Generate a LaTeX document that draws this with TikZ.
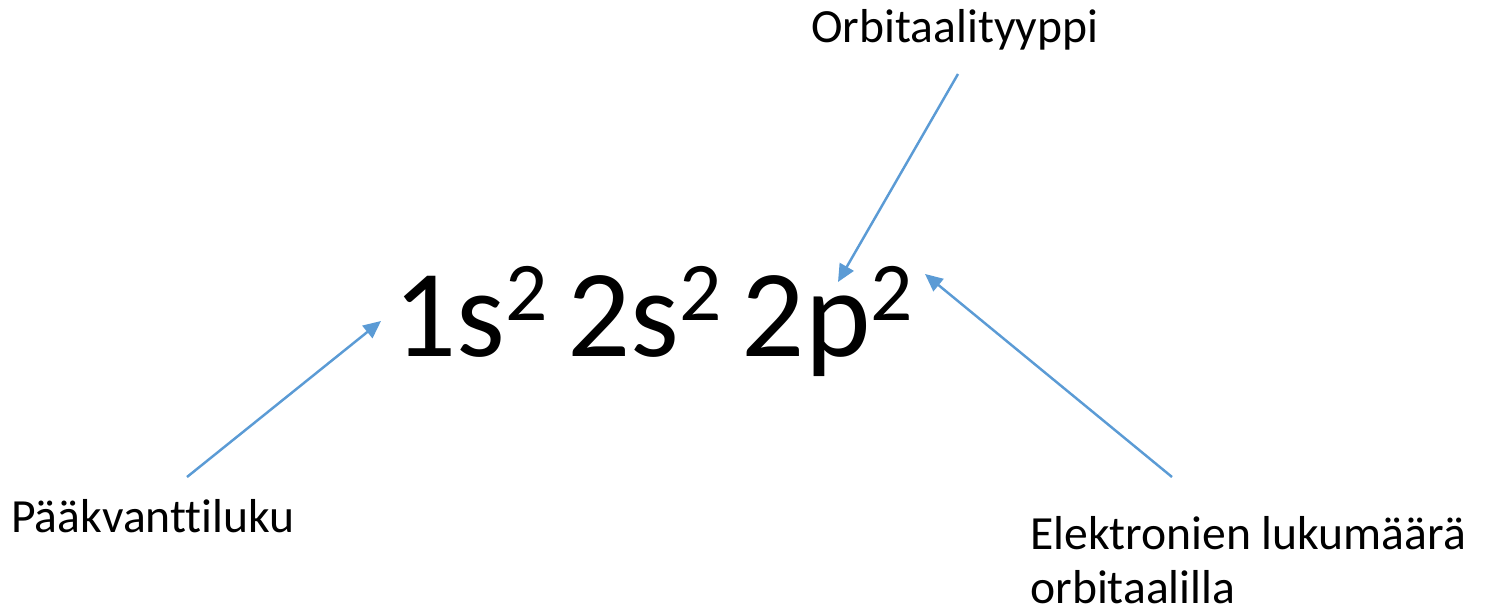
\documentclass[tikz,border=0pt]{standalone}
\usepackage{fontspec}
\setmainfont{Carlito}[Ligatures=NoCommon]
\usetikzlibrary{arrows.meta,calc}

\definecolor{officeblue}{HTML}{5B9BD5}
\newcommand{\sups}[1]{\raisebox{0.285em}{\fontsize{47.5}{47.5}\selectfont #1}}

\begin{document}
\begin{tikzpicture}[x=0.02cm,y=-0.02cm,>={Triangle[length=10pt,width=9pt]}]
  \tikzset{
    label/.style={inner sep=0pt,font=\fontsize{27.1}{30.6}\selectfont},
    pointer/.style={officeblue,line width=1.4pt,->}
  }
  \useasboundingbox (0,0) rectangle (1486,611);

  \node[inner sep=0pt,anchor=base west,font=\fontsize{71}{76}\selectfont] (config) at (393,356)
    {1s\sups{2}\hspace{0.16em}2s\sups{2}\hspace{0.16em}2p\sups{2}};

  \node[label,anchor=base west] (principal) at (11,532) {Pääkvanttiluku};
  \node[label,anchor=base west] (orbtype) at (811,43) {Orbitaalityyppi};
  \node[label,anchor=base west,align=left] (count) at (1030,603) {Elektronien lukumäärä\\orbitaalilla};

  % where the arrows start and end
  \coordinate (a1) at (187,477);
  \coordinate (b1) at (381,321);
  \coordinate (a2) at (958,74);
  \coordinate (b2) at (838,282);
  \coordinate (a3) at (1172,477);
  \coordinate (b3) at (925,274);

  \draw[pointer] (a1) -- (b1);
  \draw[pointer] (a2) -- (b2);
  \draw[pointer] (a3) -- (b3);
\end{tikzpicture}
\end{document}
